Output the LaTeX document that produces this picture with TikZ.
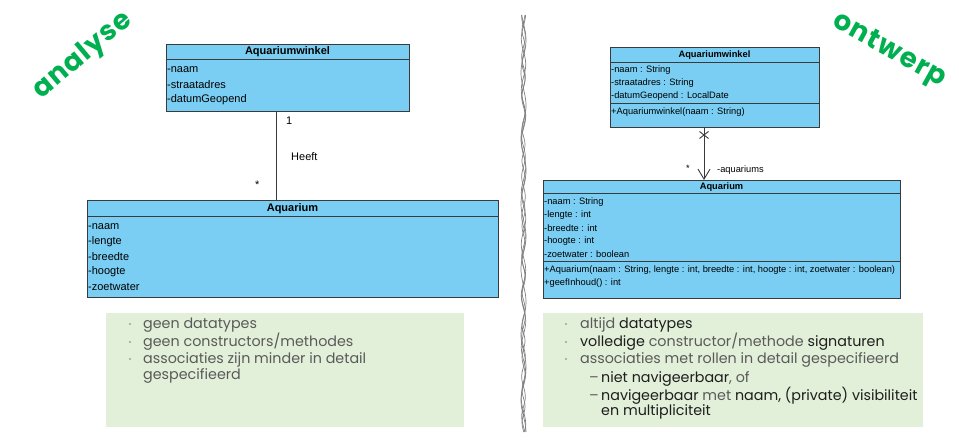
\documentclass[tikz,border=0pt]{standalone}
\usepackage{fontspec}
\setmainfont{Liberation Sans}
\newfontfamily\slidefont{Poppins}
\newfontfamily\titelfont{Poppins}[LetterSpace=4]
\usetikzlibrary{arrows.meta}

\definecolor{umlblue}{HTML}{7ACEF3}
\definecolor{umlline}{HTML}{3A3A3A}
\definecolor{notegreen}{HTML}{E2F0D9}
\definecolor{titlegreen}{HTML}{00B050}
\definecolor{bulletgray}{HTML}{5A5A5A}
\definecolor{bulletdark}{HTML}{1E1E1E}
\definecolor{wavegray}{HTML}{808080}

\tikzset{
  klasse/.style={draw=umlline, fill=umlblue, line width=0.9pt, anchor=north west, inner sep=0pt},
  kopA/.style={font=\fontsize{11}{12}\selectfont\bfseries, inner sep=0pt},
  attrA/.style={font=\fontsize{11}{12}\selectfont, anchor=west, inner sep=0pt},
  kopB/.style={font=\fontsize{9.3}{10}\selectfont\bfseries, inner sep=0pt},
  attrB/.style={font=\fontsize{9.3}{10}\selectfont, anchor=west, inner sep=0pt},
  deler/.style={draw=umlline, line width=0.9pt},
  notitie/.style={fill=notegreen, anchor=north west, inner sep=0pt},
  punt/.style={font=\slidefont\fontsize{14.3}{15}\selectfont, text=bulletgray, anchor=base west, inner sep=0pt},
  bol/.style={font=\slidefont\fontsize{6}{7}\selectfont, text=bulletgray, inner sep=0pt},
  titel/.style={font=\titelfont\fontsize{27.5}{30}\selectfont\bfseries, text=titlegreen, inner sep=0pt},
}

\begin{document}
\begin{tikzpicture}[x=1pt, y=-1pt, >=Stealth]
\useasboundingbox (0,0) rectangle (959,446);

% titels
\node[titel, rotate=40] (tAnalyse) at (83,56) {analyse};
\node[titel, rotate=-29] (tOntwerp) at (889,51) {ontwerp};

% scheiding in het midden
\foreach \ph/\amp/\fr in {0/2.2/7, 120/1.8/9, 230/2.5/5.5, 300/1.5/11}
  \draw[wavegray, line width=0.7pt] plot[smooth, domain=15:432, samples=140] ({523.5+\amp*sin(\x*\fr+\ph)}, \x);

% ---- analyse ----
\node[klasse, minimum width=243, minimum height=67] (winkelA) at (166,44) {};
\draw[deler] (winkelA.north west) ++(0,15) -- ++(243,0);
\node[kopA] (winkelAkop) at (287.5,51.5) {Aquariumwinkel};
\foreach \t [count=\i] in {-naam,-straatadres,-datumGeopend}
  \node[attrA] (winkelAattr\i) at (167,55+15*\i) {\t};

\node[klasse, minimum width=411, minimum height=97] (aquariumA) at (87,200) {};
\draw[deler] (aquariumA.north west) ++(0,16) -- ++(411,0);
\node[kopA] (aquariumAkop) at (292.5,208.5) {Aquarium};
\foreach \t [count=\i] in {-naam,-lengte,-breedte,-hoogte,-zoetwater}
  \node[attrA] (aquariumAattr\i) at (88,212+15*\i) {\t};

\coordinate (heeftX) at (276,0);
\draw[umlline, line width=0.9pt] (winkelA.south -| heeftX) -- (aquariumA.north -| heeftX);
\node[attrA] (multEen) at (286,121) {1};
\node[attrA] (heeftLabel) at (291,157) {Heeft};
\node[attrA] (multVeelA) at (255,185) {*};

% ---- ontwerp ----
\node[klasse, minimum width=209, minimum height=80] (winkelB) at (610,47) {};
\draw[deler] (winkelB.north west) ++(0,15) -- ++(209,0);
\draw[deler] (winkelB.north west) ++(0,56) -- ++(209,0);
\node[kopB] (winkelBkop) at (714.5,55) {Aquariumwinkel};
\foreach \t [count=\i] in {-naam : String,-straatadres : String,-datumGeopend : LocalDate}
  \node[attrB] (winkelBattr\i) at (611,57+13*\i) {\t};
\node[attrB] (winkelBmeth1) at (611,112) {+Aquariumwinkel(naam : String)};

\node[klasse, minimum width=357, minimum height=118] (aquariumB) at (543,180) {};
\draw[deler] (aquariumB.north west) ++(0,13) -- ++(357,0);
\draw[deler] (aquariumB.north west) ++(0,81) -- ++(357,0);
\node[kopB] (aquariumBkop) at (721.5,187) {Aquarium};
\foreach \t [count=\i] in {-naam : String,-lengte : int,-breedte : int,-hoogte : int,-zoetwater : boolean}
  \node[attrB] (aquariumBattr\i) at (544,189+13*\i) {\t};
\node[attrB] (aquariumBmeth1) at (544,270) {+Aquarium(naam : String, lengte : int, breedte : int, hoogte : int, zoetwater : boolean)};
\node[attrB] (aquariumBmeth2) at (544,283) {+geefInhoud() : int};

\coordinate (navX) at (704,0);
\draw[umlline, line width=0.9pt, -{Straight Barb[length=10pt, width=12pt]}] (winkelB.south -| navX) -- (aquariumB.north -| navX);
\coordinate (kruis) at (704,135);
\draw[umlline, line width=0.9pt] (kruis) ++(-4.5,-3.5) -- ++(9,7);
\draw[umlline, line width=0.9pt] (kruis) ++(-4.5,3.5) -- ++(9,-7);
\node[attrB] (multVeelB) at (686,168) {*};
\node[attrB] (rolLabel) at (717,170) {-aquariums};

% ---- notities ----
\node[notitie, minimum width=358, minimum height=114] (notaA) at (106,313) {};
\foreach \yy [count=\i] in {325,343,360}
  \node[bol] (bolA\i) at (130,\yy) {•};
\node[punt] (notaAr1) at (143,329) {geen datatypes};
\node[punt] (notaAr2) at (143,347) {geen constructors/methodes};
\node[punt] (notaAr3) at (143,364) {associaties zijn minder in detail};
\node[punt] (notaAr4) at (143,380) {gespecifieerd};

\node[notitie, minimum width=380, minimum height=114] (notaB) at (543,313) {};
\foreach \yy [count=\i] in {325,343,360}
  \node[bol] (bolB\i) at (566,\yy) {•};
\node[punt] (notaBr1) at (580,329) {altijd \textcolor{bulletdark}{datatypes}};
\node[punt] (notaBr2) at (580,347) {\textcolor{bulletdark}{volledige} constructor/methode \textcolor{bulletdark}{signaturen}};
\node[punt] (notaBr3) at (580,364) {associaties met rollen in detail gespecifieerd};
\node[punt] (streep1) at (589,382) {–};
\node[punt] (streep2) at (589,400) {–};
\node[punt] (notaBr4) at (601,382) {\textcolor{bulletdark}{niet navigeerbaar}, of};
\node[punt] (notaBr5) at (601,400) {\textcolor{bulletdark}{navigeerbaar} met \textcolor{bulletdark}{naam, (private) visibiliteit}};
\node[punt] (notaBr6) at (601,415) {\textcolor{bulletdark}{en multipliciteit}};
\end{tikzpicture}
\end{document}
